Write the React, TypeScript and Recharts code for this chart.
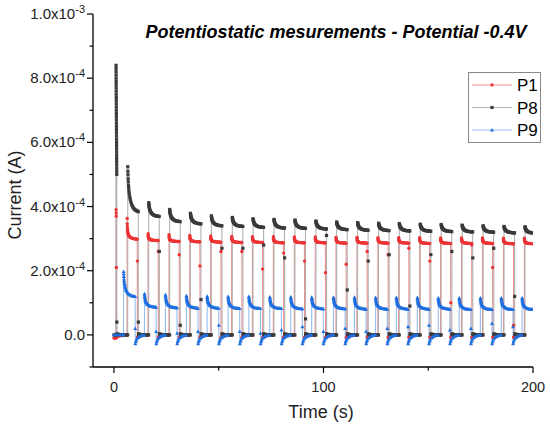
import React from "react";
import { Line, LineChart, XAxis, YAxis } from "recharts";

const FONT = '"Liberation Sans", Arial, sans-serif';
const SC = 1e-4; // values below are read in units of 1e-4 A

// axis ticks
const xTicks = [0, 50, 100, 150, 200];
const xTickLabels = ["0", "", "100", "", "200"];
const yTicks = [-1e-4, 0, 1e-4, 2e-4, 3e-4, 4e-4, 5e-4, 6e-4, 7e-4, 8e-4, 9e-4, 1e-3];
const yTickMant = ["", "0.0", "", "2.0x10", "", "4.0x10", "", "6.0x10", "", "8.0x10", "", "1.0x10"];
const yTickExp = ["", "", "", "-4", "", "-4", "", "-4", "", "-4", "", "-3"];

// shared time grid across an "on" period (fraction of its length)
const onPhase = [0, 0.01, 0.02, 0.035, 0.05, 0.07, 0.09, 0.12, 0.15, 0.19, 0.23, 0.28, 0.34, 0.4, 0.47, 0.54, 0.62, 0.7, 0.78, 0.86, 0.93, 1.0];
// seconds after switch-off
const offPhase = [0.1, 0.3, 0.6, 1.0, 1.5, 2.0, 2.6, 3.2, 3.8, 4.4];

// P1 (red)
const p1Lead = [[0, -0.1], [0.3, -0.1], [0.6, -0.1], [0.95, -0.1], [1.0, 3.9], [1.05, 3.8], [1.1, 3.7], [1.15, 2.1]];
const p1On = [6.3, 16.3, 26.3, 36.2, 46.2, 56.2, 66.1, 76.1, 86.1, 96.1, 106.0, 116.0, 126.0, 135.9, 145.9, 155.9, 165.9, 175.9, 185.9, 195.9];
const p1Peak = [3.63, 3.15, 3.12, 3.1, 3.08, 3.07, 3.06, 3.06, 3.05, 3.05, 3.04, 3.04, 3.03, 3.03, 3.03, 3.02, 3.02, 3.02, 3.01, 3.01];
const p1End = [2.98, 2.94, 2.91, 2.9, 2.89, 2.88, 2.88, 2.87, 2.87, 2.87, 2.86, 2.86, 2.86, 2.86, 2.85, 2.85, 2.85, 2.85, 2.84, 2.84];
const p1Shape = [1, 0.75, 0.6, 0.48, 0.4, 0.33, 0.28, 0.23, 0.19, 0.16, 0.13, 0.11, 0.09, 0.07, 0.055, 0.045, 0.035, 0.025, 0.018, 0.01, 0.005, 0];
const p1FallMid = [2.3, 2.6, 2.5, 2.15, 2.6, 2.6, 2.05, 2.55, 2.3, 1.94, 2.2, 2.6, 2.5, 2.7, 2.3, 1.0, 2.8, 2.1, 0.3, 2.8];
const p1Off = [-0.08, -0.06, -0.05, -0.04, -0.03, -0.03, -0.02, -0.02, -0.01, -0.01];

// P8 (dark grey)
const p8Lead = [
  [0, 0], [0.5, 0], [0.95, 0],
  [1.0, 8.4], [1.01, 8.3], [1.02, 8.2], [1.03, 8.1], [1.04, 8.0], [1.05, 7.9], [1.06, 7.8], [1.07, 7.7],
  [1.08, 7.6], [1.09, 7.5], [1.1, 7.4], [1.11, 7.3], [1.12, 7.2], [1.13, 7.1], [1.14, 7.0], [1.15, 6.9],
  [1.16, 6.8], [1.17, 6.7], [1.18, 6.6], [1.19, 6.5], [1.2, 6.4], [1.21, 6.3], [1.22, 6.2], [1.23, 6.1],
  [1.24, 6.0], [1.25, 5.9], [1.26, 5.8], [1.27, 5.7], [1.28, 5.6], [1.29, 5.5], [1.3, 5.4], [1.31, 5.3],
  [1.32, 5.2], [1.33, 5.1], [1.34, 5.0], [1.4, 0.4],
];
const p8On = [6.6, 16.6, 26.6, 36.5, 46.5, 56.5, 66.4, 76.4, 86.4, 96.4, 106.3, 116.3, 126.3, 136.2, 146.2, 156.2, 166.2, 176.2, 186.2, 196.2];
const p8Peak = [5.24, 4.12, 3.91, 3.79, 3.71, 3.66, 3.62, 3.6, 3.58, 3.55, 3.52, 3.5, 3.48, 3.47, 3.45, 3.44, 3.42, 3.4, 3.38, 3.37];
const p8End = [3.84, 3.69, 3.53, 3.46, 3.4, 3.38, 3.35, 3.33, 3.32, 3.3, 3.28, 3.26, 3.25, 3.24, 3.23, 3.22, 3.21, 3.2, 3.18, 3.17];
const p8Shape = [1, 0.9, 0.82, 0.73, 0.66, 0.58, 0.52, 0.45, 0.39, 0.33, 0.28, 0.23, 0.18, 0.14, 0.11, 0.08, 0.06, 0.04, 0.03, 0.02, 0.01, 0];
const p8FallMid = [0.4, 2.6, 0.3, 1.1, 2.7, 2.7, 2.8, 2.4, 0.5, 3.1, 1.4, 2.3, 2.5, 0.9, 2.5, 2.6, 2.4, 2.7, 1.2, 1.0];
const p8Off = [0.03, 0.02, 0.02, 0.01, 0.01, 0.01, 0, 0, 0, 0];

// P9 (blue)
const p9Lead = [[0, 0], [1, 0], [2, 0], [3, 0], [4, 0], [4.5, 0]];
const p9On = [4.6, 14.6, 24.6, 34.6, 44.5, 54.5, 64.4, 74.4, 84.4, 94.4, 104.8, 114.8, 124.9, 134.8, 144.8, 154.8, 164.8, 174.9, 184.9, 194.8];
const p9Peak = [1.97, 1.28, 1.25, 1.22, 1.2, 1.19, 1.19, 1.18, 1.18, 1.17, 1.17, 1.17, 1.16, 1.16, 1.16, 1.15, 1.15, 1.15, 1.15, 1.15];
const p9End = [1.19, 0.86, 0.84, 0.83, 0.83, 0.82, 0.82, 0.82, 0.81, 0.81, 0.81, 0.8, 0.8, 0.8, 0.8, 0.8, 0.79, 0.79, 0.79, 0.79];
const p9Shape = [1, 0.9, 0.8, 0.7, 0.62, 0.54, 0.48, 0.41, 0.35, 0.29, 0.24, 0.2, 0.16, 0.12, 0.09, 0.07, 0.05, 0.035, 0.025, 0.015, 0.007, 0];
const p9FallMid = [0.2, 0.1, 0.05, 0.1, 0.3, 0.1, 0.05, 0.15, 0.25, 0.1, 0.2, 0.1, 0.2, 0.25, 0.3, 0.15, 0.2, 0.35, 0.25, 0.3];
const p9Off = [-0.28, -0.22, -0.16, -0.11, -0.08, -0.05, -0.035, -0.02, -0.012, -0.008];

type Pt = { t: number; v: number };

function buildSeries(
  lead: number[][], on: number[], dur: number, peak: number[], end: number[],
  shape: number[], fallMid: number[], off: number[],
): Pt[] {
  const pts: Pt[] = lead.map(([t, v]) => ({ t, v: v * SC }));
  const addOff = (from: number, to: number) => {
    offPhase.forEach((d, j) => {
      const t = from + d;
      if (t < to - 0.1 && t <= 200) pts.push({ t, v: off[j] * SC });
    });
    if (to - 0.05 <= 200) pts.push({ t: to - 0.05, v: pts[pts.length - 1].v });
  };
  addOff(lead[lead.length - 1][0], on[0]);
  on.forEach((t0, i) => {
    const next = i < on.length - 1 ? on[i + 1] : 260;
    onPhase.forEach((f, j) => {
      const t = t0 + f * dur;
      if (t <= 200) pts.push({ t, v: (end[i] + (peak[i] - end[i]) * shape[j]) * SC });
    });
    const tf = t0 + dur;
    if (tf + 0.05 <= 200) pts.push({ t: tf + 0.05, v: fallMid[i] * SC });
    if (tf + 0.1 <= 200) addOff(tf, next);
  });
  return pts;
}

const p1Data = buildSeries(p1Lead, p1On, 4.8, p1Peak, p1End, p1Shape, p1FallMid, p1Off);
const p8Data = buildSeries(p8Lead, p8On, 5.0, p8Peak, p8End, p8Shape, p8FallMid, p8Off);
const p9Data = buildSeries(p9Lead, p9On, 5.5, p9Peak, p9End, p9Shape, p9FallMid, p9Off);

const RED = "#ec3434";
const RED_LINE = "#ef8f8f";
const GREY = "#3a3a3a";
const GREY_LINE = "#b0b0b0";
const BLUE = "#1f6fe0";
const BLUE_LINE = "#95bdf2";

function Marker({ kind, x, y, color }: { kind: string; x: number; y: number; color: string }) {
  if (kind === "square") return <rect x={x - 1.6} y={y - 1.6} width={3.2} height={3.2} fill={color} />;
  if (kind === "triangle")
    return <path d={`M${x},${y - 2.1}L${x + 2},${y + 1.4}L${x - 2},${y + 1.4}Z`} fill={color} />;
  return <circle cx={x} cy={y} r={1.7} fill={color} />;
}

const makeDot = (kind: string, color: string) => (p: any) => (
  <Marker key={`d${p.index}`} kind={kind} x={p.cx} y={p.cy} color={color} />
);

function YTick(props: any) {
  const { x, y, payload } = props;
  const i = yTicks.indexOf(payload.value);
  const mant = yTickMant[i] ?? "";
  const major = mant !== "";
  return (
    <g>
      <line x1={x - (major ? 6 : 3.5)} x2={x} y1={y} y2={y} stroke="#000" strokeWidth={1.2} />
      {major && (
        <text x={x - 8} y={y + 5} textAnchor="end" fontFamily={FONT} fontSize={15} fill="#222">
          <tspan>{mant}</tspan>
          {yTickExp[i] && (
            <tspan dy={-6} fontSize={11}>
              {yTickExp[i]}
            </tspan>
          )}
        </text>
      )}
    </g>
  );
}

function XTick(props: any) {
  const { x, y, payload } = props;
  const i = xTicks.indexOf(payload.value);
  const label = xTickLabels[i] ?? "";
  const major = label !== "";
  return (
    <g>
      <line x1={x} x2={x} y1={y} y2={y + (major ? 6 : 3.5)} stroke="#000" strokeWidth={1.2} />
      {major && (
        <text x={x} y={y + 25} textAnchor="middle" fontFamily={FONT} fontSize={14.5} fill="#222">
          {label}
        </text>
      )}
    </g>
  );
}

const legendItems = [
  { name: "P1", color: RED, line: RED_LINE, kind: "circle" },
  { name: "P8", color: GREY, line: GREY_LINE, kind: "square" },
  { name: "P9", color: BLUE, line: BLUE_LINE, kind: "triangle" },
];

export default function App() {
  return (
    <div style={{ position: "absolute", left: 0, top: 0, width: 550, height: 429, background: "#fff" }}>
      <LineChart width={550} height={429} margin={{ top: 14, right: 17, bottom: 22, left: 13 }}>
        <XAxis
          type="number"
          dataKey="t"
          domain={[-10, 200]}
          ticks={xTicks}
          allowDataOverflow
          height={40}
          tickSize={0}
          tickMargin={0}
          tickLine={false}
          tick={<XTick />}
          axisLine={{ stroke: "#000", strokeWidth: 1.3 }}
          interval={0}
        />
        <YAxis
          type="number"
          dataKey="v"
          domain={[-1e-4, 1e-3]}
          ticks={yTicks}
          allowDataOverflow
          width={80}
          tickSize={0}
          tickMargin={0}
          tickLine={false}
          tick={<YTick />}
          axisLine={{ stroke: "#000", strokeWidth: 1.3 }}
          interval={0}
        />
        <Line data={p1Data} dataKey="v" type="linear" stroke={RED_LINE} strokeWidth={1.1}
          dot={makeDot("circle", RED)} activeDot={false} isAnimationActive={false} />
        <Line data={p8Data} dataKey="v" type="linear" stroke={GREY_LINE} strokeWidth={1.1}
          dot={makeDot("square", GREY)} activeDot={false} isAnimationActive={false} />
        <Line data={p9Data} dataKey="v" type="linear" stroke={BLUE_LINE} strokeWidth={1.1}
          dot={makeDot("triangle", BLUE)} activeDot={false} isAnimationActive={false} />
      </LineChart>
      <svg width={550} height={429} style={{ position: "absolute", left: 0, top: 0, pointerEvents: "none" }}>
        <text x={336} y={38} textAnchor="middle" fontFamily={FONT} fontSize={18} fontWeight="bold" fontStyle="italic" fill="#000">
          Potentiostatic mesurements - Potential -0.4V
        </text>
        <text x={321} y={418} textAnchor="middle" fontFamily={FONT} fontSize={18} fill="#222">
          Time (s)
        </text>
        <text transform="translate(21,195) rotate(-90)" textAnchor="middle" fontFamily={FONT} fontSize={18} fill="#222">
          Current (A)
        </text>
        <rect x={468.5} y={72.5} width={72} height={70} fill="#fff" stroke="#888" strokeWidth={1} />
        {legendItems.map((it, i) => {
          const cy = 85 + i * 22.5;
          return (
            <g key={it.name}>
              <line x1={472} x2={512} y1={cy} y2={cy} stroke={it.line} strokeWidth={1} />
              <Marker kind={it.kind} x={492} y={cy} color={it.color} />
              <text x={517} y={cy + 6} fontFamily={FONT} fontSize={17} fill="#000">
                {it.name}
              </text>
            </g>
          );
        })}
      </svg>
    </div>
  );
}
